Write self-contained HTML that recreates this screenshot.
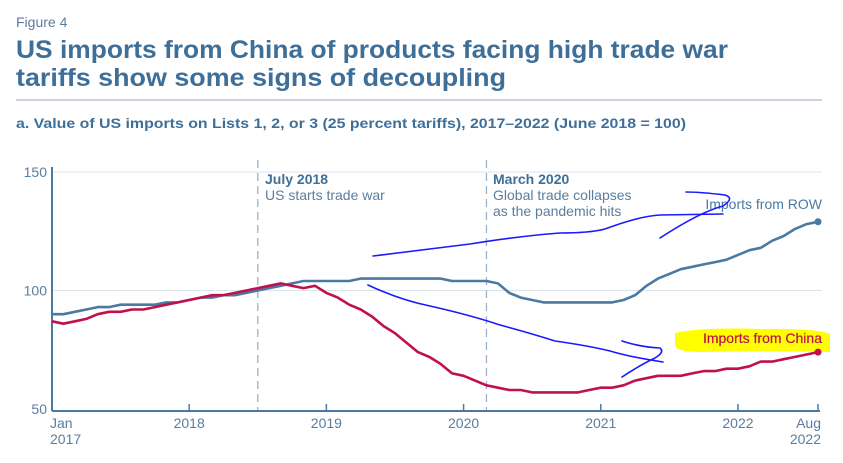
<!DOCTYPE html>
<html><head><meta charset="utf-8"><style>
html,body{margin:0;padding:0;background:#fff;}
svg{display:block;font-family:"Liberation Sans",sans-serif;}
</style></head><body>
<svg id="chart" width="843" height="463" viewBox="0 0 843 463">
<text x="16" y="27" font-size="14" fill="#5a7d9e">Figure 4</text>
<text x="16" y="58" font-size="25" font-weight="bold" fill="#3e6f99" textLength="712" lengthAdjust="spacingAndGlyphs">US imports from China of products facing high trade war</text>
<text x="16" y="86" font-size="25" font-weight="bold" fill="#3e6f99" textLength="490" lengthAdjust="spacingAndGlyphs">tariffs show some signs of decoupling</text>
<line x1="16" y1="100" x2="822" y2="100" stroke="#b8c6d4" stroke-width="1.5"/>
<text x="16" y="128" font-size="13.5" font-weight="bold" fill="#3e6f99" textLength="670" lengthAdjust="spacingAndGlyphs">a. Value of US imports on Lists 1, 2, or 3 (25 percent tariffs), 2017–2022 (June 2018 = 100)</text>
<g id="plot"></g>
</svg>
<script>
const monthsCount = 68;
const rowValues = [90,90,91,92,93,93,94,94,94,94,95,95,96,97,97,98,98,99,100,101,102,103,104,104,104,104,104,105,105,105,105,105,105,105,105,104,104,104,104,103,99,97,96,95,95,95,95,95,95,95,96,98,102,105,107,109,110,111,112,113,115,117,118,121,123,126,128,129];
const chinaValues = [87,86,87,88,90,91,91,92,92,93,94,95,96,97,98,98,99,100,101,102,103,102,101,102,99,97,94,92,89,85,82,78,74,72,69,65,64,62,60,59,58,58,57,57,57,57,57,58,59,59,60,62,63,64,64,64,65,66,66,67,67,68,70,70,71,72,73,74];
const yTicks = [50,100,150];
const xTickMonths = [0,12,24,36,48,60,67];
const xTickLabels = ["Jan|2017","2018","2019","2020","2021","2022","Aug|2022"];
const eventMonths = [18,38];

const NS="http://www.w3.org/2000/svg";
const g=document.getElementById('plot');
const x0=52,x1=818,yTop=172,yBot=409;
const xs=m=>x0+(x1-x0)*m/(monthsCount-1);
const ys=v=>yBot-(v-50)/(150-50)*(yBot-yTop);
function mk(t,a){const e=document.createElementNS(NS,t);for(const k in a)e.setAttribute(k,a[k]);g.appendChild(e);return e;}

yTicks.forEach(v=>{
 if(v>50){const l=mk('line',{x1:x0,x2:822,y1:ys(v),y2:ys(v),stroke:'#dde5ec','stroke-width':1});
 
 }
 const t=mk('text',{x:47,y:ys(v)+5,'text-anchor':'end','font-size':14,fill:'#5a7d9e'});
 t.textContent=v;
 
 
});
eventMonths.forEach((m,i)=>{
 const l=mk('line',{x1:xs(m),x2:xs(m),y1:160,y2:411,stroke:'#9db2c6','stroke-width':1.3,'stroke-dasharray':'8,5'});
 
 
});
let a=mk('line',{x1:x0,x2:x0,y1:167,y2:411,stroke:'#4a7aa3','stroke-width':2});


a=mk('line',{x1:x0,x2:x1+2,y1:411,y2:411,stroke:'#4a7aa3','stroke-width':2});


xTickMonths.forEach((m,i)=>{
 const tk=mk('line',{x1:xs(m),x2:xs(m),y1:404,y2:411,stroke:'#4a7aa3','stroke-width':1.5});
 
 
 const parts=xTickLabels[i].split('|');
 parts.forEach((p,j)=>{
  const anchor=i===0?'start':(i===xTickMonths.length-1?'end':'middle');
  const t=mk('text',{x:i===0?x0-2:xs(m)+(i===xTickMonths.length-1?3:0),y:428+j*16,'text-anchor':anchor,'font-size':14,fill:'#5a7d9e'});
  t.textContent=p;
  
  
 });
});
function line(vals,color,name){
 const d=vals.map((v,i)=>(i?'L':'M')+xs(i).toFixed(1)+','+ys(v).toFixed(1)).join('');
 const p=mk('path',{d:d,fill:'none',stroke:color,'stroke-width':2.6,'stroke-linejoin':'round'});
 
 
 const c=mk('circle',{cx:xs(vals.length-1),cy:ys(vals[vals.length-1]),r:3.5,fill:color});
 
 
}
// highlight behind China label
let hl=mk('path',{d:'M675,333 Q700,327 760,329 Q815,328 830,334 L830,352 Q780,351 700,352 Q676,352 675,345 Z',fill:'#ffff00'});


line(rowValues,'#4a7aa3','row-series-line');
line(chinaValues,'#c0104e','china-series-line');

function label(x,y,txt,opts,name){const t=mk('text',Object.assign({x:x,y:y,'font-size':14,fill:'#4a7aa3'},opts));t.textContent=txt;
 
 }
label(265,184,'July 2018',{'font-weight':'bold',fill:'#3e6f99'},'annotation-july-2018-title');
label(265,200,'US starts trade war',{fill:'#5a7d9e'},'annotation-july-2018-text');
label(493,184,'March 2020',{'font-weight':'bold',fill:'#3e6f99'},'annotation-march-2020-title');
label(493,200,'Global trade collapses',{fill:'#5a7d9e'},'annotation-march-2020-text1');
label(493,216,'as the pandemic hits',{fill:'#5a7d9e'},'annotation-march-2020-text2');
label(822,209,'Imports from ROW',{'text-anchor':'end',fill:'#4a7aa3'},'legend-row-label');
label(822,343,'Imports from China',{'text-anchor':'end',fill:'#c0104e',stroke:'#c0104e','stroke-width':0.2},'legend-china-label');

// hand-drawn blue marks
const inkPaths=['M373,256 Q420,250 470,244 Q520,236 560,233 Q590,233 605,229 Q640,216 660,215 L723,214',
 'M660,238 Q700,212 723,206 Q735,198 725,195 Q700,192 686,192',
 'M368,285 Q400,300 430,306 Q470,315 500,325 Q530,333 555,341 Q590,346 610,351 Q630,357 663,362',
 'M622,341 Q640,347 660,348 Q665,352 655,358 Q640,365 622,377'];
inkPaths.forEach((d,i)=>{const p=mk('path',{d:d,fill:'none',stroke:'#1a1aff','stroke-width':1.6,'stroke-linecap':'round'});
 
 });
</script>
</body></html>
